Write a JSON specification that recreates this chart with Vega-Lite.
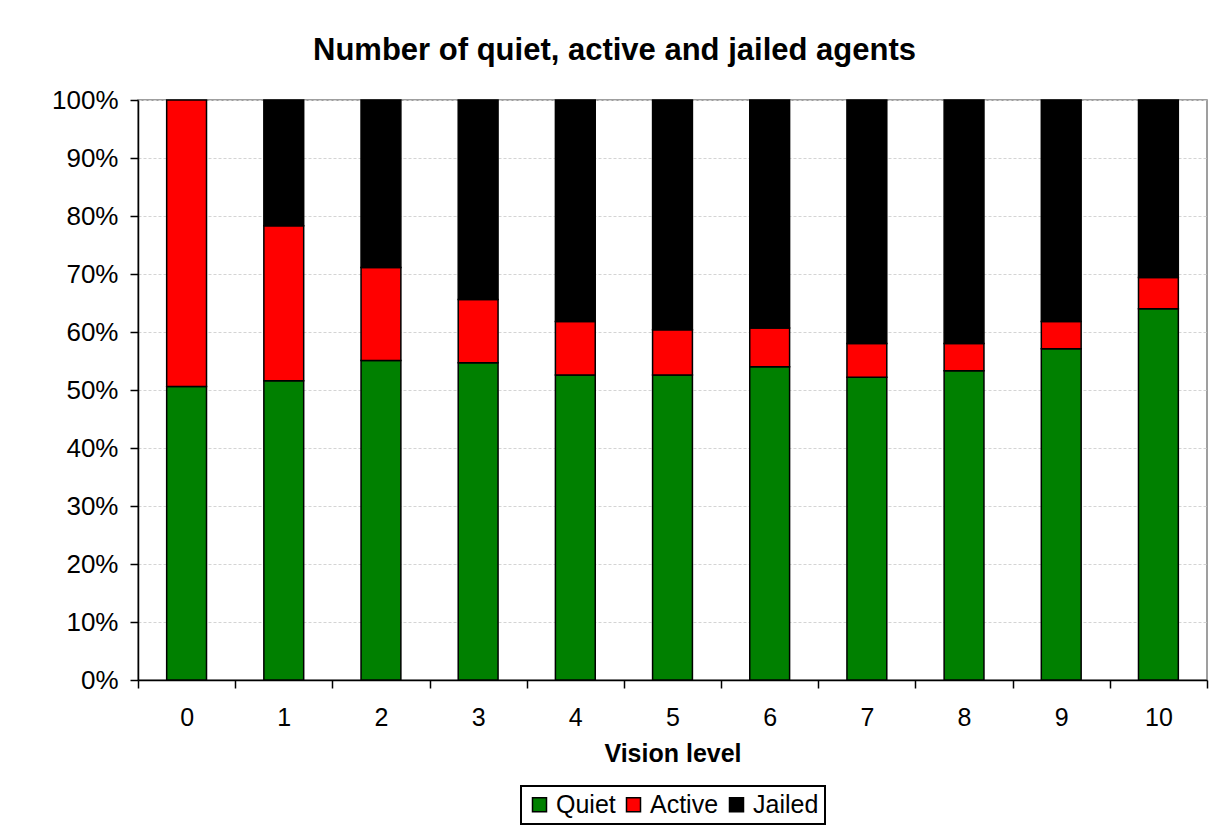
{
  "$schema": "https://vega.github.io/schema/vega-lite/v6.json",
  "width": 1069,
  "height": 580,
  "autosize": {"type": "none"},
  "padding": {"left": 138, "top": 100, "right": 2, "bottom": 157},
  "background": "white",
  "title": {
    "text": "Number of quiet, active and jailed agents",
    "font": "Liberation Sans",
    "fontSize": 31,
    "fontWeight": "bold",
    "color": "black",
    "anchor": "middle",
    "dx": -58,
    "offset": 20
  },
  "data": {
    "values": [
      {"vision": "0", "status": "Quiet", "pct": 50.6},
      {"vision": "0", "status": "Active", "pct": 49.4},
      {"vision": "1", "status": "Quiet", "pct": 51.6},
      {"vision": "1", "status": "Active", "pct": 26.7},
      {"vision": "1", "status": "Jailed", "pct": 21.7},
      {"vision": "2", "status": "Quiet", "pct": 55.1},
      {"vision": "2", "status": "Active", "pct": 16.0},
      {"vision": "2", "status": "Jailed", "pct": 28.9},
      {"vision": "3", "status": "Quiet", "pct": 54.7},
      {"vision": "3", "status": "Active", "pct": 10.9},
      {"vision": "3", "status": "Jailed", "pct": 34.4},
      {"vision": "4", "status": "Quiet", "pct": 52.6},
      {"vision": "4", "status": "Active", "pct": 9.2},
      {"vision": "4", "status": "Jailed", "pct": 38.2},
      {"vision": "5", "status": "Quiet", "pct": 52.6},
      {"vision": "5", "status": "Active", "pct": 7.8},
      {"vision": "5", "status": "Jailed", "pct": 39.6},
      {"vision": "6", "status": "Quiet", "pct": 54.0},
      {"vision": "6", "status": "Active", "pct": 6.7},
      {"vision": "6", "status": "Jailed", "pct": 39.3},
      {"vision": "7", "status": "Quiet", "pct": 52.2},
      {"vision": "7", "status": "Active", "pct": 5.8},
      {"vision": "7", "status": "Jailed", "pct": 42.0},
      {"vision": "8", "status": "Quiet", "pct": 53.3},
      {"vision": "8", "status": "Active", "pct": 4.7},
      {"vision": "8", "status": "Jailed", "pct": 42.0},
      {"vision": "9", "status": "Quiet", "pct": 57.1},
      {"vision": "9", "status": "Active", "pct": 4.7},
      {"vision": "9", "status": "Jailed", "pct": 38.2},
      {"vision": "10", "status": "Quiet", "pct": 64.0},
      {"vision": "10", "status": "Active", "pct": 5.4},
      {"vision": "10", "status": "Jailed", "pct": 30.6}
    ]
  },
  "mark": {"type": "bar", "stroke": "black", "strokeWidth": 1.5, "width": {"band": 0.41}},
  "encoding": {
    "x": {
      "field": "vision",
      "type": "ordinal",
      "sort": ["0","1","2","3","4","5","6","7","8","9","10"],
      "scale": {"paddingInner": 0, "paddingOuter": 0},
      "axis": {
        "title": "Vision level",
        "titleFont": "Liberation Sans",
        "titleFontSize": 25,
        "titleFontWeight": "bold",
        "titleColor": "black",
        "titlePadding": 11,
        "labelFont": "Liberation Sans",
        "labelFontSize": 25,
        "labelColor": "black",
        "labelAngle": 0,
        "labelPadding": 17,
        "tickBand": "extent",
        "tickSize": 8,
        "tickColor": "black",
        "tickWidth": 1.5,
        "domainColor": "black",
        "domainWidth": 1.5,
        "grid": false
      }
    },
    "y": {
      "field": "pct",
      "type": "quantitative",
      "stack": "normalize",
      "scale": {"domain": [0, 1]},
      "axis": {
        "title": null,
        "format": ".0%",
        "values": [0, 0.1, 0.2, 0.3, 0.4, 0.5, 0.6, 0.7, 0.8, 0.9, 1],
        "labelFont": "Liberation Sans",
        "labelFontSize": 26,
        "labelColor": "black",
        "labelPadding": 12,
        "tickSize": 8,
        "tickColor": "black",
        "tickWidth": 1.5,
        "domainColor": "black",
        "domainWidth": 1.5,
        "grid": true,
        "gridColor": "#d4d4d4",
        "gridDash": [3, 2],
        "gridWidth": 1
      }
    },
    "color": {
      "field": "status",
      "type": "nominal",
      "sort": ["Quiet", "Active", "Jailed"],
      "scale": {"domain": ["Quiet", "Active", "Jailed"], "range": ["#008000", "#ff0000", "#000000"]},
      "legend": {
        "title": null,
        "orient": "none",
        "direction": "horizontal",
        "legendX": 383,
        "legendY": 686,
        "symbolType": "square",
        "symbolSize": 196,
        "symbolStrokeColor": "black",
        "symbolStrokeWidth": 1.5,
        "labelFont": "Liberation Sans",
        "labelFontSize": 25,
        "labelColor": "black",
        "labelOffset": 4,
        "columnPadding": 5,
        "padding": 6,
        "strokeColor": "black",
        "fillColor": "white"
      }
    },
    "order": {"field": "ord"}
  },
  "config": {
    "view": {"stroke": "#808080", "strokeWidth": 1.5},
    "legend": {"strokeWidth": 2}
  }
}
